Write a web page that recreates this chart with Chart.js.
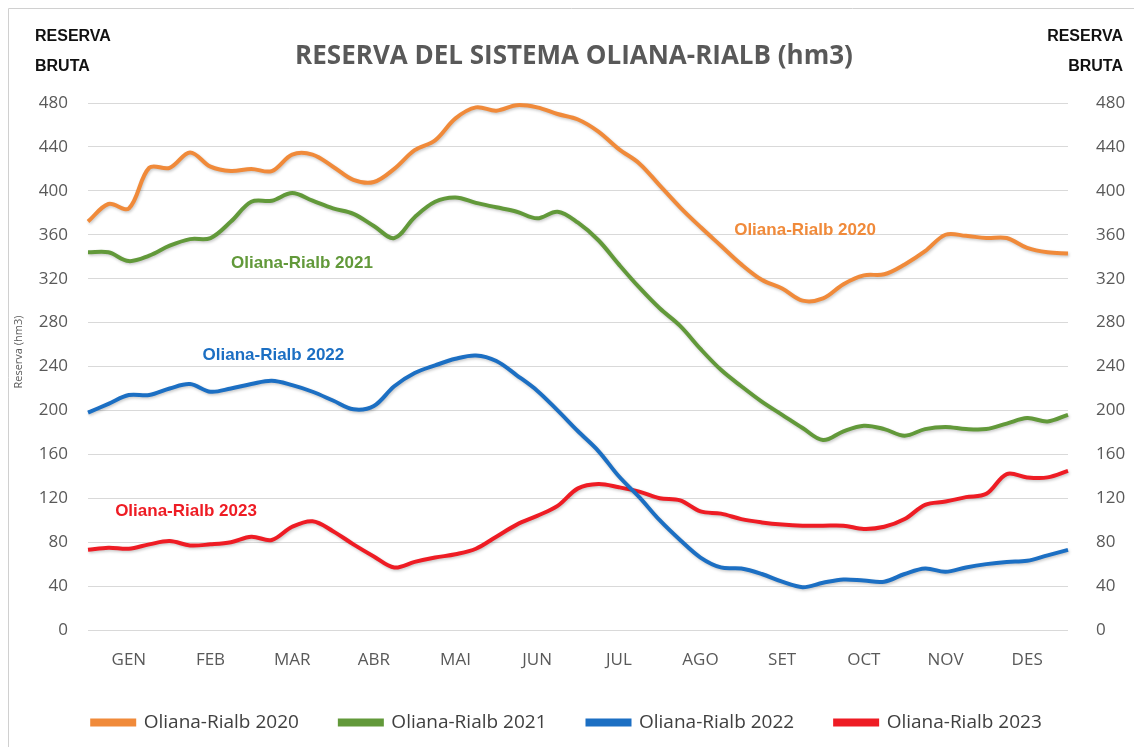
<!DOCTYPE html>
<html>
<head>
<meta charset="utf-8">
<script src="https://cdn.jsdelivr.net/npm/chart.js@4.4.0/dist/chart.umd.min.js"></script>
<style>
  html, body { margin: 0; padding: 0; background: #fff; }
  #wrap { position: relative; width: 1134px; height: 747px; }
</style>
</head>
<body>
<div id="wrap"><canvas id="chart" width="1134" height="747"></canvas></div>
<script>
// month names shown under the x axis
var months = ['GEN', 'FEB', 'MAR', 'ABR', 'MAI', 'JUN', 'JUL', 'AGO', 'SET', 'OCT', 'NOV', 'DES'];

// reserve (hm3), one value every quarter of a month, from 1 Jan to 31 Dec
var oliana2020 = [372, 388, 384, 421, 421, 435, 422, 418, 420, 418, 433, 433, 422,
    410, 408, 420, 437, 446, 466, 476, 473, 478, 476, 470, 465, 454, 438, 425, 405,
    385, 367, 350, 333, 319, 311, 300, 302, 315, 323, 324, 333, 345, 360, 359, 357,
    357, 348, 344, 343];
var oliana2021 = [344, 344, 336, 341, 350, 356, 357, 372, 390, 391, 398, 391, 384,
    379, 368, 357, 376, 390, 394, 389, 385, 381, 375, 381, 371, 355, 333, 312, 293,
    277, 256, 237, 222, 208, 196, 184, 173, 181, 186, 183, 177, 183, 185, 183, 183,
    188, 193, 190, 196];
var oliana2022 = [198, 206, 214, 214, 220, 224, 217, 220, 224, 227, 223, 217, 209,
    201, 204, 222, 234, 241, 247, 250, 245, 232, 218, 200, 181, 163, 140, 121, 100,
    82, 66, 57, 56, 51, 44, 39, 43, 46, 45, 44, 51, 56, 53, 57, 60, 62, 63, 68, 73];
var oliana2023 = [73, 75, 74, 78, 81, 77, 78, 80, 85, 82, 94, 99, 90, 78, 67, 57,
    62, 66, 69, 74, 85, 96, 104, 113, 129, 133, 130, 126, 120, 118, 108, 106, 101,
    98, 96, 95, 95, 95, 92, 94, 101, 114, 117, 121, 124, 142, 139, 139, 145];

var seriesNames = ['Oliana-Rialb 2020', 'Oliana-Rialb 2021', 'Oliana-Rialb 2022', 'Oliana-Rialb 2023'];
var seriesColors = ['#F08A3A', '#62993A', '#1C6FC3', '#EE1C24'];

// where the inline series names sit, in chart units (month, hm3)
var labelPos = [[8.78, 364], [2.62, 334], [2.27, 250], [1.2, 108]];

function toPoints(values) {
    var pts = [];
    for (var i = 0; i < values.length; i++) {
        pts.push({ x: i / 4, y: values[i] });
    }
    return pts;
}

var textFont = "'Open Sans', sans-serif";

var decorPlugin = {
    id: 'decor',
    beforeDatasetDraw: function (chart) {
        var ctx = chart.ctx;
        ctx.save();
        ctx.shadowColor = 'rgba(0,0,0,0.22)';
        ctx.shadowBlur = 3;
        ctx.shadowOffsetX = 1;
        ctx.shadowOffsetY = 1.5;
    },
    afterDatasetDraw: function (chart) {
        chart.ctx.restore();
    },
    afterDraw: function (chart) {
        var ctx = chart.ctx;
        var xs = chart.scales.x;
        var ys = chart.scales.y;
        ctx.save();

        // frame line on the left and top
        ctx.strokeStyle = '#d0d0d0';
        ctx.lineWidth = 1;
        ctx.beginPath();
        ctx.moveTo(8.5, 747);
        ctx.lineTo(8.5, 8.5);
        ctx.lineTo(1134, 8.5);
        ctx.stroke();

        // title
        ctx.fillStyle = '#595959';
        ctx.font = 'bold 26px ' + textFont;
        ctx.textAlign = 'center';
        ctx.textBaseline = 'middle';
        ctx.fillText('RESERVA DEL SISTEMA OLIANA-RIALB (hm3)', 574, 57);

        // side headers
        ctx.fillStyle = '#111';
        ctx.font = 'bold 16px Liberation Sans, Arial, sans-serif';
        ctx.textAlign = 'left';
        ctx.fillText('RESERVA', 35, 37);
        ctx.fillText('BRUTA', 35, 67);
        ctx.textAlign = 'right';
        ctx.fillText('RESERVA', 1123, 37);
        ctx.fillText('BRUTA', 1123, 67);

        // rotated axis name
        ctx.save();
        ctx.translate(19, 352);
        ctx.rotate(-Math.PI / 2);
        ctx.fillStyle = '#595959';
        ctx.font = '11px ' + textFont;
        ctx.textAlign = 'center';
        ctx.fillText('Reserva (hm3)', 0, 0);
        ctx.restore();

        // inline series names
        ctx.font = 'bold 17px Liberation Sans, Arial, sans-serif';
        ctx.textAlign = 'center';
        for (var i = 0; i < seriesNames.length; i++) {
            ctx.fillStyle = seriesColors[i];
            ctx.fillText(seriesNames[i], xs.getPixelForValue(labelPos[i][0]), ys.getPixelForValue(labelPos[i][1]));
        }
        ctx.restore();
    }
};

var allSeries = [oliana2020, oliana2021, oliana2022, oliana2023];
var datasets = [];
for (var s = 0; s < allSeries.length; s++) {
    datasets.push({
        label: seriesNames[s],
        data: toPoints(allSeries[s]),
        borderColor: seriesColors[s],
        backgroundColor: seriesColors[s],
        borderWidth: 4,
        pointRadius: 0,
        tension: 0.35,
        clip: false
    });
}

var tickFont = { family: textFont, size: 17 };

new Chart(document.getElementById('chart').getContext('2d'), {
    type: 'line',
    data: { datasets: datasets },
    plugins: [decorPlugin],
    options: {
        responsive: false,
        animation: false,
        layout: { padding: { top: 103, left: 0, right: 0, bottom: 5 } },
        plugins: {
            title: { display: false },
            tooltip: { enabled: false },
            legend: {
                position: 'bottom',
                labels: {
                    boxWidth: 42,
                    boxHeight: 4,
                    padding: 41,
                    color: '#404040',
                    font: { family: textFont, size: 19 }
                }
            }
        },
        scales: {
            x: {
                type: 'linear',
                min: 0,
                max: 12,
                grid: { display: false },
                border: { display: false },
                afterFit: function (scale) { scale.height = 42; },
                afterBuildTicks: function (scale) {
                    scale.ticks = months.map(function (m, i) { return { value: i + 0.5 }; });
                },
                ticks: {
                    autoSkip: false,
                    maxRotation: 0,
                    padding: 12,
                    color: '#595959',
                    font: tickFont,
                    callback: function (value) { return months[Math.floor(value)]; }
                }
            },
            y: {
                position: 'left',
                min: 0,
                max: 480,
                afterFit: function (scale) { scale.width = 88; },
                grid: { color: '#d9d9d9', lineWidth: 1, drawTicks: false },
                border: { display: false },
                ticks: {
                    stepSize: 40,
                    padding: 20,
                    color: '#595959',
                    font: tickFont
                }
            },
            y2: {
                position: 'right',
                min: 0,
                max: 480,
                afterFit: function (scale) { scale.width = 66; },
                grid: { display: false },
                border: { display: false },
                ticks: {
                    stepSize: 40,
                    padding: 20,
                    color: '#595959',
                    font: tickFont
                }
            }
        }
    }
});
</script>
</body>
</html>
